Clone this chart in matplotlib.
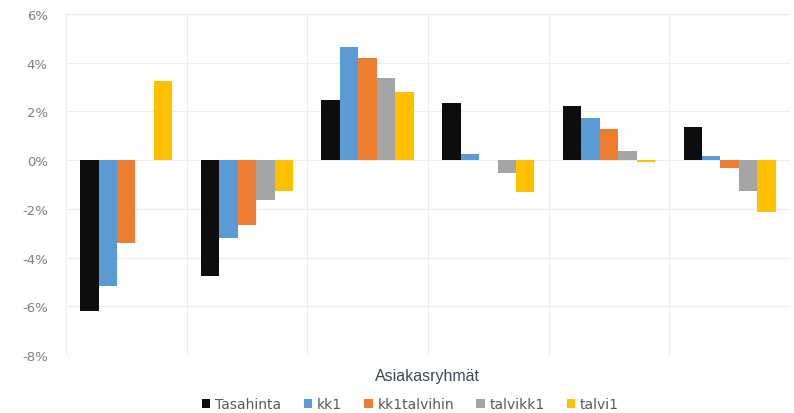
import numpy as np
import matplotlib.pyplot as plt
from matplotlib.ticker import FuncFormatter

# Sarjat ja arvot (%)
sarjat = ['Tasahinta', 'kk1', 'kk1talvihin', 'talvikk1', 'talvi1']
varit = ['#0d0d0d', '#5b9bd5', '#ed7d31', '#a5a5a5', '#ffc000']

tasahinta = [-6.2, -4.75, 2.45, 2.35, 2.2, 1.37]
kk1 = [-5.15, -3.2, 4.65, 0.27, 1.74, 0.18]
kk1talvihin = [-3.4, -2.65, 4.2, 0.0, 1.28, -0.33]
talvikk1 = [0.0, -1.65, 3.35, -0.53, 0.37, -1.28]
talvi1 = [3.25, -1.25, 2.8, -1.3, -0.08, -2.12]

arvot = [tasahinta, kk1, kk1talvihin, talvikk1, talvi1]
ryhmat = np.arange(len(tasahinta))

fig = plt.figure(figsize=(7.94, 4.14), dpi=100)
ax = fig.add_axes([0.083, 0.140, 0.912, 0.824])

leveys = 0.153
for i, (nimi, y) in enumerate(zip(sarjat, arvot)):
    x = ryhmat + (i - 2) * leveys
    ax.bar(x, y, width=leveys, color=varit[i], label=nimi, zorder=3)

ax.set_xlim(-0.5, len(tasahinta) - 0.5)
ax.set_ylim(-8, 6)
ax.set_yticks(np.arange(-8, 7, 2))
ax.yaxis.set_major_formatter(FuncFormatter(lambda v, p: f'{v:.0f}%'))
ax.set_xticks(np.arange(-0.5, len(tasahinta), 1))
ax.set_xticklabels([])
ax.tick_params(axis='y', length=0, labelsize=9.5, colors='#7f7f7f', pad=13)
ax.tick_params(axis='x', length=0, pad=0)
ax.grid(True, color='#ececec', linewidth=0.8, zorder=0)
for s in ax.spines.values():
    s.set_visible(False)

ax.set_xlabel('Asiakasryhmät', fontsize=11.5, color='#3a4a5a', labelpad=9,
              family='Liberation Sans')
ax.legend(loc='center', bbox_to_anchor=(0.476, -0.144), ncol=5, frameon=False,
          fontsize=10, handlelength=0.6, handleheight=0.6, handletextpad=0.35,
          columnspacing=1.6, labelcolor='#595959')

plt.savefig('out.png', dpi=100)
